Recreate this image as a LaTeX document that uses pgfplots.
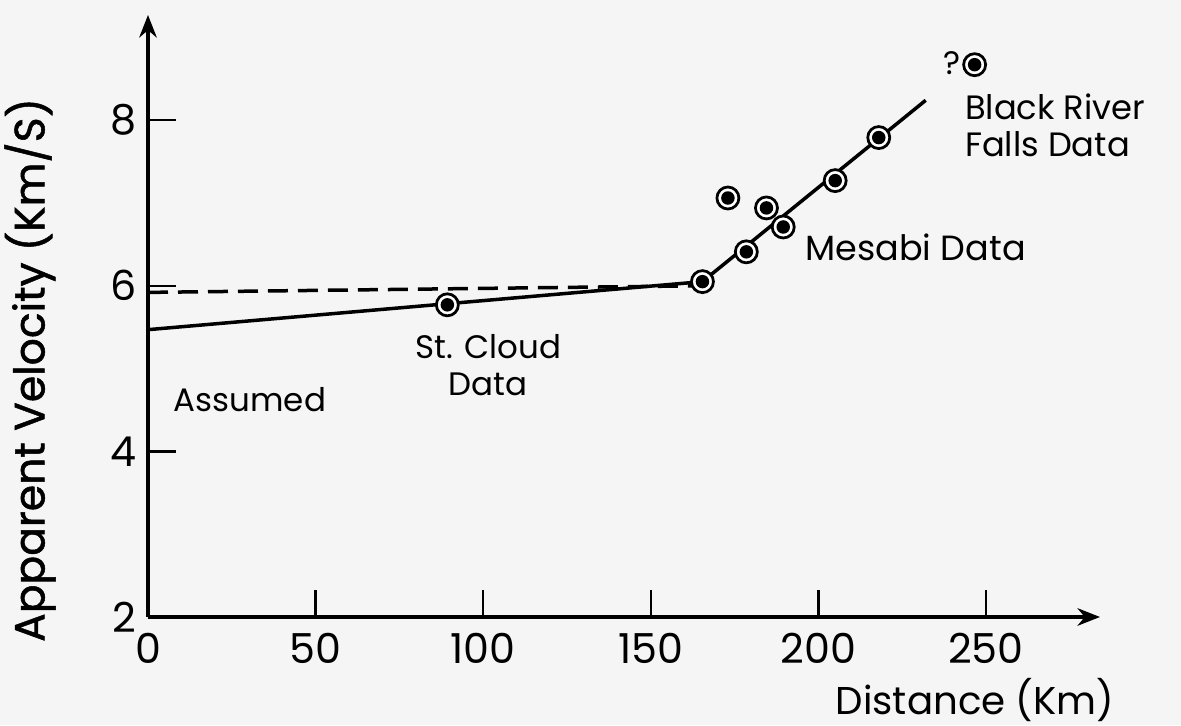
\documentclass[border=0pt]{standalone}
\usepackage{pgfplots}
\pgfplotsset{compat=1.18}
\usepackage{fontspec}
\setmainfont{Poppins}
\newfontfamily\lblfont[FakeBold=1.2]{Poppins}
\usetikzlibrary{arrows.meta}
\pgfdeclareplotmark{circdot}{%
  \pgfsetlinewidth{1.1pt}%
  \pgfsetfillcolor{white}%
  \pgfpathcircle{\pgfpointorigin}{4.4pt}\pgfusepath{fill,stroke}%
  \pgfsetfillcolor{black}%
  \pgfpathcircle{\pgfpointorigin}{2.7pt}\pgfusepath{fill}%
}
\begin{document}
\begin{tikzpicture}[x=1pt,y=1pt]
\path[use as bounding box, fill=black!4] (-59.2,-43.2) rectangle (413.2,246.8);
\begin{axis}[
  at={(0,0)}, anchor=south west,
  scale only axis, width=380.8pt, height=240.8pt,
  xmin=0, xmax=284, ymin=2, ymax=9.27,
  axis lines=left,
  axis line style={line width=1.4pt, -{Stealth[length=9pt,width=7pt]}},
  xtick={0,50,100,150,200,250}, ytick={2,4,6,8},
  tick align=inside, major tick length=11pt,
  tick style={line width=1pt, black},
  /pgf/number format/assume math mode=true,
  tick label style={font=\fontsize{16.5}{18}\selectfont},
  xticklabel style={yshift=-3pt},
  yticklabel style={xshift=-1pt},
  clip=false,
]
\addplot[line width=1.4pt, black] coordinates {(0,5.47) (165.4,6.05) (232,8.24)};
\addplot[line width=1.4pt, black, dash pattern=on 8pt off 4pt] coordinates {(0,5.92) (165,6.0)};
\addplot[only marks, mark=circdot] coordinates {
 (89.3,5.77) (165.4,6.05) (178.5,6.41) (189.5,6.71) (184.5,6.94) (173,7.06) (205,7.27) (218,7.79) (246.6,8.67)};
\node[font=\fontsize{13}{15}\selectfont] at (axis cs:30.4,4.62) {Assumed};
\node[font=\fontsize{13}{15}\selectfont, align=center] at (axis cs:101.5,5.04) {St. Cloud\\Data};
\node[font=\fontsize{14}{15}\selectfont] at (axis cs:229,6.46) {Mesabi Data};
\node[font=\fontsize{13}{15}\selectfont] at (axis cs:240,8.69) {?};
\node[font=\fontsize{13.5}{15}\selectfont, anchor=west, align=left, inner sep=0pt] at (axis cs:243.6,7.94) {Black River\\Falls Data};
\end{axis}
\node[font=\fontsize{15.5}{17}\selectfont] at (330.8,-33.2) {Distance (Km)};
\node[font=\lblfont\fontsize{17}{18}\selectfont, rotate=90] at (-47.2,98.8) {Apparent Velocity (Km/S)};
\end{tikzpicture}
\end{document}
